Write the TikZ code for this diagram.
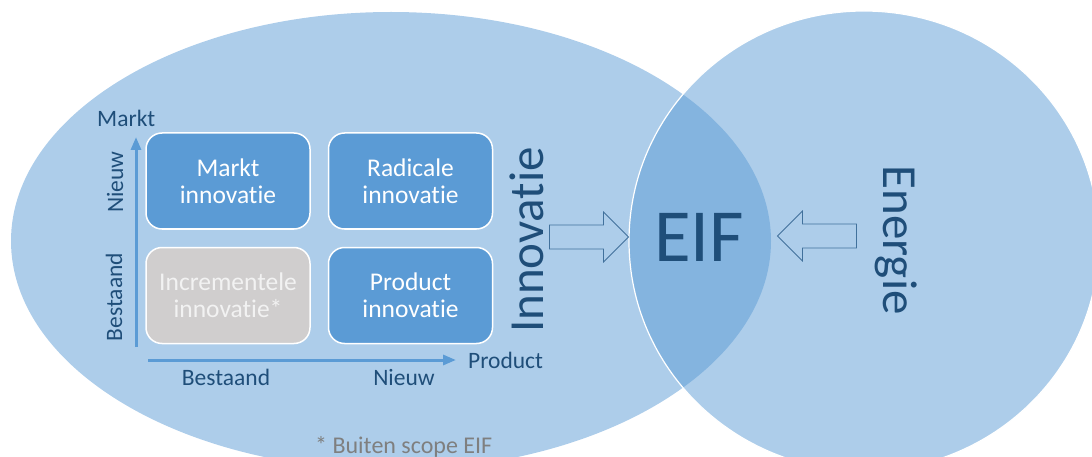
\documentclass[tikz,border=0pt]{standalone}
\usepackage{fontspec}
\setmainfont{Carlito}[Ligatures=NoCommon]
\usetikzlibrary{positioning,shapes.arrows,arrows.meta}
\definecolor{eifblue}{HTML}{5B9BD5}
\definecolor{eifdark}{HTML}{1F4E79}
\definecolor{eifgrey}{HTML}{D0CECE}
\definecolor{eifpale}{HTML}{F2F2F2}
\definecolor{eifline}{HTML}{41719C}
\definecolor{eifnote}{HTML}{7F7F7F}
\tikzset{
  quad/.style={draw=white, line width=1.5pt, rounded corners=16pt, minimum width=164pt,
    minimum height=96pt, align=center, text=white, font=\fontsize{25.5}{26.7}\selectfont},
  axis/.style={eifblue, line width=3pt, -{Triangle[length=13pt,width=10pt]}},
  axislabel/.style={text=eifdark, inner sep=0, font=\fontsize{23.5}{28}\selectfont},
  biglabel/.style={text=eifdark, inner sep=0, font=\fontsize{49}{49}\selectfont},
  bigarrow/.style={single arrow, draw=eifline, line width=0.8pt, inner xsep=0, inner ysep=11.5pt,
    minimum height=79pt, single arrow head extend=13pt, single arrow tip angle=90}
}
\begin{document}
\begin{tikzpicture}[x=1pt, y=-1pt]
    \useasboundingbox (0,0) rectangle (1092,457);
    % the two sets, both half transparent so the overlap comes out darker
    \fill[eifblue, fill opacity=.5] (391,241) ellipse [x radius=380, y radius=229];
    \filldraw[fill=eifblue, fill opacity=.5, draw=white, line width=1.2pt] (864,241) ellipse [x radius=235, y radius=230];

    % the four quadrants
    \node[quad, fill=eifblue] (markt) at (228,181) {Markt\\innovatie};
    \node[quad, fill=eifblue, right=17pt of markt] (radicaal) {Radicale\\innovatie};
    \node[quad, fill=eifgrey, text=eifpale, below=17pt of markt] (incrementeel) {Incrementele\\innovatie*};
    \node[quad, fill=eifblue, below=17pt of radicaal] (product) {Product\\innovatie};

    % axes
    \coordinate (yfrom) at (136,347);
    \coordinate (yto) at (136,137);
    \coordinate (xfrom) at (148,360);
    \coordinate (xto) at (456,360);
    \draw[axis] (yfrom) -- (yto);
    \draw[axis] (xfrom) -- (xto);
    \node[axislabel, anchor=base west] (marktlabel) at (97,127) {Markt};
    \node[axislabel, rotate=90, anchor=base] (nieuwy) at (123,182) {Nieuw};
    \node[axislabel, rotate=90, anchor=base] (bestaandy) at (122,297) {Bestaand};
    \node[axislabel, anchor=base west] (productlabel) at (468,368) {Product};
    \node[axislabel, anchor=base] (bestaandx) at (226,385) {Bestaand};
    \node[axislabel, anchor=base] (nieuwx) at (404,385) {Nieuw};

    % both sides point into EIF
    \node[biglabel, rotate=90, anchor=base] (innovatie) at (543,240) {Innovatie};
    \node[biglabel, rotate=-90, anchor=base] (energie) at (883,240) {Energie};
    \node[bigarrow] (innoarrow) at (583,237) {};
    \node[bigarrow, shape border rotate=180] (energyarrow) at (823,236) {};
    \node[text=eifdark, inner sep=0, font=\fontsize{75}{75}\selectfont, anchor=base] (eif) at (699,261) {EIF};

    \node[text=eifnote, inner sep=0, font=\fontsize{24}{24}\selectfont, anchor=base west] (note) at (315,453) {* Buiten scope EIF};
\end{tikzpicture}
\end{document}
